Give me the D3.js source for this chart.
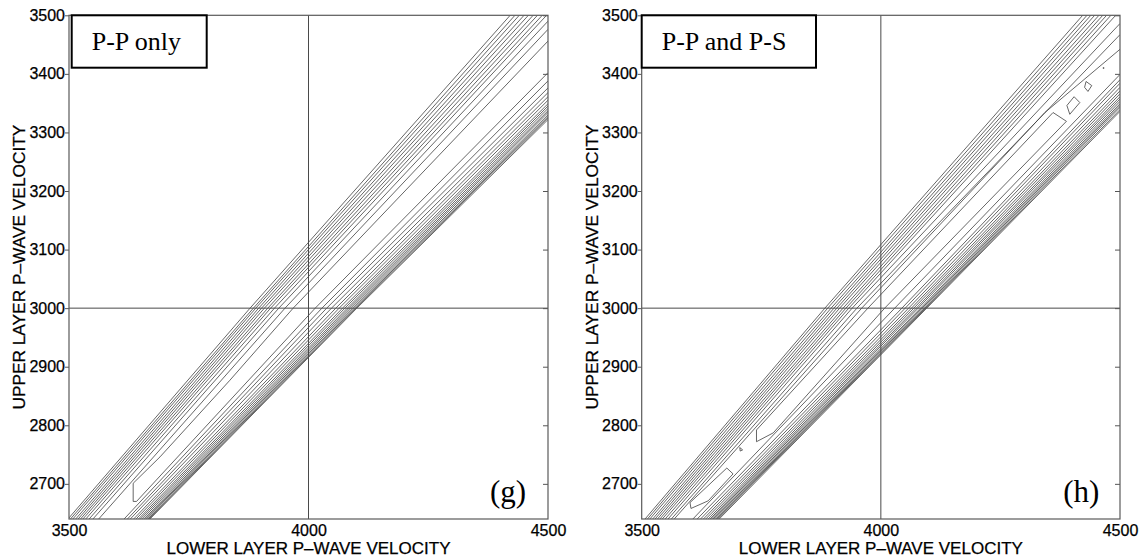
<!DOCTYPE html>
<html><head><meta charset="utf-8">
<script src="https://cdn.jsdelivr.net/npm/d3@7"></script>
<style>body{margin:0;background:#fff}svg{display:block}</style>
</head><body>
<svg id="chart" width="1146" height="558"></svg>
<script>
// ---------------- data ----------------
const xDomain = [3500, 4500];
const yDomain = [2640, 3500];
const xTicks = [3500, 4000, 4500];
const yTicks = [2700, 2800, 2900, 3000, 3100, 3200, 3300, 3400, 3500];
const refX = 4000, refY = 3000;
const panelTitles = ["P-P only", "P-P and P-S"];
const panelTags = ["(g)", "(h)"];
const xLabel = "LOWER LAYER P\u2013WAVE VELOCITY";
const yLabel = "UPPER LAYER P\u2013WAVE VELOCITY";

// Panel (g): P-P only — contour lines [lower-layer vel, upper-layer vel]
const ppUpper = [
  [[3498,2640],[3878,3000],[4421,3500]],
  [[3503,2640],[3885,3000],[4431,3500]],
  [[3508,2640],[3890,3000],[4440,3500]],
  [[3514,2640],[3896,3000],[4450,3500]],
  [[3519,2640],[3902,3000],[4459,3500]],
  [[3524,2640],[3908,3000],[4469,3500]],
  [[3529,2640],[3915,3000],[4478,3500]],
  [[3535,2640],[3921,3000],[4488,3500]],
  [[3542,2640],[3929,3000],[4497,3500]],
  [[3550,2640],[3938,3000],[4500,3490]],
  [[3562,2640],[3951,3000],[4500,3476]]
];
const ppInner = [[4500,3456],[3968,3000],[3836,2877],[3690,2746],[3634,2701],[3634,2670],[3641,2670],[4014,3000],[4500,3402]];
const ppLower = [
  [[3615,2640],[4028,3000],[4500,3388]],
  [[3622,2640],[4038,3000],[4500,3376]],
  [[3628,2640],[4048,3000],[4500,3368]],
  [[3635,2640],[4057,3000],[4500,3361]],
  [[3640,2640],[4064,3000],[4500,3355]],
  [[3645,2640],[4071,3000],[4500,3349]],
  [[3649,2640],[4076,3000],[4500,3345]],
  [[3653,2640],[4081,3000],[4500,3341]],
  [[3657,2640],[4085,3000],[4500,3337]],
  [[3660,2640],[4089,3000],[4500,3334]],
  [[3662,2640],[4093,3000],[4500,3330]],
  [[3665,2640],[4096,3000],[4500,3327]],
  [[3667,2640],[4099,3000],[4500,3325]],
  [[3669,2640],[4101,3000],[4500,3322]]
];

// Panel (h): P-P and P-S
const psUpper = [
  [[3507,2640],[3883,3000],[4422,3500]],
  [[3512,2640],[3889,3000],[4431,3500]],
  [[3517,2640],[3896,3000],[4439,3500]],
  [[3523,2640],[3902,3000],[4447,3500]],
  [[3528,2640],[3908,3000],[4456,3500]],
  [[3533,2640],[3914,3000],[4464,3500]],
  [[3538,2640],[3921,3000],[4472,3500]],
  [[3543,2640],[3927,3000],[4481,3500]],
  [[3549,2640],[3933,3000],[4491,3500]],
  [[3555,2640],[3940,3000],[4500,3486]],
  [[3562,2640],[3950,3000],[4500,3467]]
];
const psMiddle = [
  [[3568,2640],[3960,3000],[4343,3334],[4500,3442]],
  [[3607,2640],[4029,3000],[4500,3399]]
];
const psLoops = [
  [[3601,2668],[3603,2658],[3639,2671],[3691,2717],[3678,2727]],
  [[3705,2762],[3711,2758],[3706,2756]],
  [[3740,2792],[3973,3000],[4360,3334],[4388,3319],[4008,3000],[3775,2787],[3740,2772]],
  [[4404,3361],[4416,3351],[4395,3331],[4389,3346]],
  [[4429,3387],[4441,3380],[4433,3370],[4426,3377]],
  [[4465,3411],[4467,3410],[4465,3409]]
];
const psLower = [
  [[3616,2640],[4044,3000],[4500,3390]],
  [[3623,2640],[4051,3000],[4500,3384]],
  [[3629,2640],[4058,3000],[4500,3377]],
  [[3634,2640],[4064,3000],[4500,3371]],
  [[3639,2640],[4069,3000],[4500,3366]],
  [[3643,2640],[4074,3000],[4500,3361]],
  [[3646,2640],[4078,3000],[4500,3357]],
  [[3649,2640],[4083,3000],[4500,3353]],
  [[3652,2640],[4086,3000],[4500,3349]],
  [[3655,2640],[4089,3000],[4500,3346]],
  [[3657,2640],[4092,3000],[4500,3343]],
  [[3659,2640],[4094,3000],[4500,3339]],
  [[3662,2640],[4096,3000],[4500,3336]]
];

// ---------------- drawing ----------------
const svg = d3.select("#chart");
const SANS = "'Liberation Sans', Arial, Helvetica, sans-serif";
const SERIF = "'Liberation Serif', 'Times New Roman', serif";
const plotTop = 15.3, plotBottom = 519;

const panels = [
  {x0: 69, x1: 548, open: [...ppUpper, ppInner, ...ppLower], closed: [], boxX: 71.7, boxW: 135, titleX: 91.7, tagX: 490, ylabX: 25},
  {x0: 641.7, x1: 1120, open: [...psUpper, ...psMiddle, ...psLower], closed: psLoops, boxX: 641.7, boxW: 174.3, titleX: 661.7, tagX: 1063.3, ylabX: 598.4}
];

panels.forEach((p, i) => {
  const x = d3.scaleLinear().domain(xDomain).range([p.x0, p.x1]);
  const y = d3.scaleLinear().domain(yDomain).range([plotBottom, plotTop]);
  const g = svg.append("g");
  const clipId = "clip" + i;
  svg.append("clipPath").attr("id", clipId).append("rect")
    .attr("x", p.x0).attr("y", plotTop).attr("width", p.x1 - p.x0).attr("height", plotBottom - plotTop);

  const line = d3.line().x(d => x(d[0])).y(d => y(d[1]));
  const cg = g.append("g").attr("clip-path", `url(#${clipId})`)
    .attr("fill", "none").attr("stroke", "#404040").attr("stroke-width", 0.8);
  cg.selectAll("path.open").data(p.open).join("path").attr("class", "open").attr("d", line);
  cg.selectAll("path.closed").data(p.closed).join("path").attr("class", "closed").attr("d", d => line(d) + "Z");

  // reference cross-hair
  g.append("line").attr("x1", x(refX)).attr("x2", x(refX)).attr("y1", plotTop).attr("y2", plotBottom)
    .attr("stroke", "#4a4a4a").attr("stroke-width", 1);
  g.append("line").attr("x1", p.x0).attr("x2", p.x1).attr("y1", y(refY)).attr("y2", y(refY))
    .attr("stroke", "#4a4a4a").attr("stroke-width", 1);

  // axes
  const ya = g.append("g").attr("transform", `translate(${p.x0},0)`)
    .call(d3.axisLeft(y).tickValues(yTicks).tickSize(4).tickPadding(0).tickFormat(d3.format("d")));
  const yr = g.append("g").attr("transform", `translate(${p.x1},0)`)
    .call(d3.axisLeft(y).tickValues(yTicks).tickSize(5).tickFormat(""));
  const xa = g.append("g").attr("transform", `translate(0,${plotBottom})`)
    .call(d3.axisBottom(x).tickValues(xTicks).tickSize(0).tickPadding(6).tickFormat(d3.format("d")));
  [ya, yr, xa].forEach(a => {
    a.select(".domain").remove();
    a.selectAll("line").attr("stroke", "#555");
    a.selectAll("text").attr("fill", "#000").attr("stroke", "#000").attr("stroke-width", 0.25)
      .style("font-family", SANS).style("font-size", "16px");
  });

  // frame
  g.append("rect").attr("x", p.x0).attr("y", plotTop).attr("width", p.x1 - p.x0).attr("height", plotBottom - plotTop)
    .attr("fill", "none").attr("stroke", "#5a5a5a").attr("stroke-width", 1.2);

  // title box
  g.append("rect").attr("x", p.boxX).attr("y", plotTop).attr("width", p.boxW).attr("height", 52.4)
    .attr("fill", "#fff").attr("stroke", "#000").attr("stroke-width", 2);
  g.append("text").attr("x", p.titleX).attr("y", 50).text(panelTitles[i])
    .style("font-family", SERIF).style("font-size", "26px").attr("fill", "#000");

  // panel tag
  g.append("text").attr("x", p.tagX).attr("y", 501.5).text(panelTags[i])
    .style("font-family", SERIF).style("font-size", "31px").attr("fill", "#000");

  // axis labels
  g.append("text").attr("x", (p.x0 + p.x1) / 2).attr("y", 554).attr("text-anchor", "middle")
    .text(xLabel).style("font-family", SANS).style("font-size", "17px")
    .attr("fill", "#000").attr("stroke", "#000").attr("stroke-width", 0.25);
  g.append("text").attr("transform", `translate(${p.ylabX},${(plotTop + plotBottom) / 2}) rotate(-90)`)
    .attr("text-anchor", "middle").text(yLabel)
    .style("font-family", SANS).style("font-size", "17.3px")
    .attr("fill", "#000").attr("stroke", "#000").attr("stroke-width", 0.25);
});
</script>
</body></html>
